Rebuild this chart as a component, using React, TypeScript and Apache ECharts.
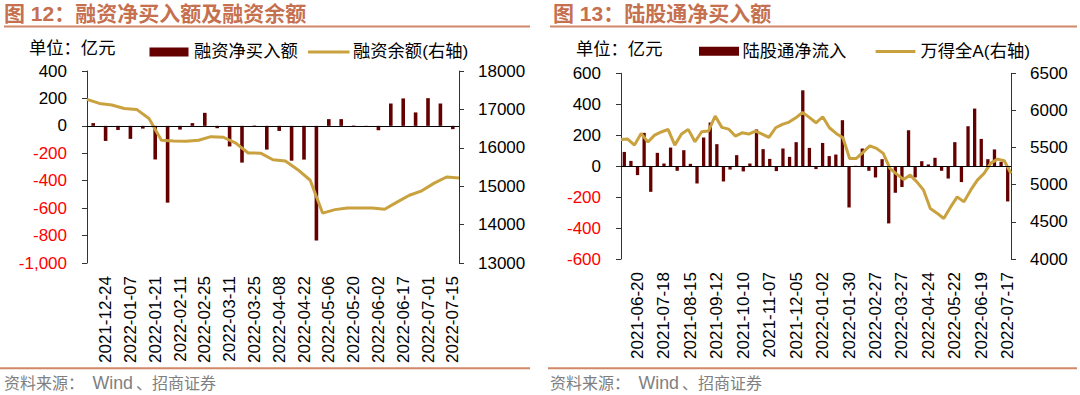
import React, { useEffect, useRef } from "react";
import * as echarts from "echarts";

// ---------- Chart 12: margin financing ----------
const marginWeeks = [
  "2021-12-17", "2021-12-24", "2021-12-31", "2022-01-07", "2022-01-14", "2022-01-21",
  "2022-01-28", "2022-02-11", "2022-02-18", "2022-02-25", "2022-03-04", "2022-03-11",
  "2022-03-18", "2022-03-25", "2022-04-01", "2022-04-08", "2022-04-15", "2022-04-22",
  "2022-04-29", "2022-05-06", "2022-05-13", "2022-05-20", "2022-05-27", "2022-06-02",
  "2022-06-10", "2022-06-17", "2022-06-24", "2022-07-01", "2022-07-08", "2022-07-15",
];
const marginNetBuy = [
  20, -110, -30, -95, -20, -245, -560, -27, 20, 95, -17, -150, -268, 3, -173,
  -37, -254, -246, -836, 49, 49, 3, -4, -32, 163, 200, 98, 202, 163, -24,
];
// balance points at week boundaries (start of first week + end of each week)
const marginBalanceDates = ["2021-12-10", ...marginWeeks];
const marginBalance = [
  17260, 17155, 17115, 17025, 17000, 16765, 16195, 16175, 16170, 16195, 16290,
  16275, 16120, 15865, 15860, 15690, 15655, 15430, 15155, 14300, 14390, 14435,
  14435, 14435, 14400, 14585, 14765, 14880, 15080, 15240, 15215,
];

// ---------- Chart 13: northbound ----------
const hkWeeks = [
  "2021-06-06", "2021-06-13", "2021-06-20", "2021-06-27", "2021-07-04", "2021-07-11",
  "2021-07-18", "2021-07-25", "2021-08-01", "2021-08-08", "2021-08-15", "2021-08-22",
  "2021-08-29", "2021-09-05", "2021-09-12", "2021-09-19", "2021-09-26", "2021-10-03",
  "2021-10-10", "2021-10-17", "2021-10-24", "2021-10-31", "2021-11-07", "2021-11-14",
  "2021-11-21", "2021-11-28", "2021-12-05", "2021-12-12", "2021-12-19", "2021-12-26",
  "2022-01-02", "2022-01-09", "2022-01-16", "2022-01-23", "2022-01-30", "2022-02-06",
  "2022-02-13", "2022-02-20", "2022-02-27", "2022-03-06", "2022-03-13", "2022-03-20",
  "2022-03-27", "2022-04-03", "2022-04-10", "2022-04-17", "2022-04-24", "2022-05-01",
  "2022-05-08", "2022-05-15", "2022-05-22", "2022-05-29", "2022-06-05", "2022-06-12",
  "2022-06-19", "2022-06-26", "2022-07-03", "2022-07-10", "2022-07-17",
];
const hkNetInflow = [
  92, 34, -58, 215, -166, 86, 17, 120, -30, 103, 15, -112, 185, 282, 142, -99,
  -22, 71, -34, 17, 237, 110, 47, -32, 114, 60, 155, 490, 118, -19, 150, 65, 75,
  297, -267, 2, 114, -30, -73, 45, -370, -172, -135, 232, -73, 32, 11, 54, -30,
  -80, 155, -103, 258, 372, 176, 45, 108, 28, -228,
];
const windA = [
  5610, 5614, 5533, 5691, 5574, 5668, 5710, 5745, 5533, 5682, 5745, 5578, 5713,
  5722, 5924, 5772, 5749, 5655, 5699, 5682, 5722, 5682, 5637, 5767, 5812, 5843,
  5901, 5974, 5907, 5834, 5915, 5767, 5691, 5632, 5354, 5354, 5435, 5524, 5489,
  5422, 5219, 5143, 5071, 5129, 5039, 4927, 4680, 4617, 4545, 4698, 4837, 4769,
  4927, 5062, 5152, 5291, 5345, 5322, 5152,
];

const BAR = "#650000";
const GOLD = "#C9A13E";
const TITLE = "#C5704F";
const RULE = "#D08868";
const FONT = "'Liberation Sans', Arial, 'Noto Sans CJK SC', sans-serif";
const AX = "#333333";

const fmt = (v: number) => v.toLocaleString("en-US");

function leftAxis(grid: number, min: number, max: number, interval: number) {
  return {
    type: "value",
    gridIndex: grid,
    position: "left",
    min,
    max,
    interval,
    axisLine: { show: true, lineStyle: { color: AX, width: 1 } },
    axisTick: { show: true, length: 5, lineStyle: { color: AX } },
    splitLine: { show: false },
    axisLabel: {
      margin: 20,
      formatter: (v: number) => (v < 0 ? `{r|${fmt(v)}}` : `{k|${fmt(v)}}`),
      rich: {
        r: { color: "#FF0000", fontSize: 17, fontFamily: FONT },
        k: { color: "#000000", fontSize: 17, fontFamily: FONT },
      },
    },
  };
}

function rightAxis(grid: number, min: number, max: number, interval: number) {
  return {
    type: "value",
    gridIndex: grid,
    position: "right",
    min,
    max,
    interval,
    axisLine: { show: true, lineStyle: { color: AX, width: 1 } },
    axisTick: { show: true, length: 5, lineStyle: { color: AX } },
    splitLine: { show: false },
    axisLabel: {
      margin: 19,
      color: "#000",
      fontSize: 17,
      fontFamily: FONT,
      formatter: (v: number) => String(v),
    },
  };
}

function catAxis(grid: number, data: string[], every: number, offset: number) {
  return {
    type: "category",
    gridIndex: grid,
    data,
    boundaryGap: true,
    position: "bottom",
    axisLine: { show: false, onZero: false },
    axisTick: { show: false },
    axisLabel: {
      rotate: 90,
      margin: 13,
      fontSize: 17,
      fontFamily: FONT,
      color: "#000",
      interval: (i: number) => i % every === offset,
    },
  };
}

function hiddenAxis(grid: number, data: string[]) {
  return {
    type: "category",
    gridIndex: grid,
    data,
    boundaryGap: false,
    show: false,
  };
}

function txt(x: number, y: number, text: string, size: number, fill: string, weight = "normal") {
  return {
    type: "text",
    x,
    y,
    silent: true,
    style: {
      text,
      fill,
      font: `${weight} ${size}px ${FONT}`,
      textVerticalAlign: "middle",
      verticalAlign: "middle",
    },
  };
}

function ln(x1: number, y1: number, x2: number, y2: number, stroke: string, w: number) {
  return { type: "line", silent: true, shape: { x1, y1, x2, y2 }, style: { stroke, lineWidth: w } };
}

function rc(x: number, y: number, w: number, h: number, fill: string) {
  return { type: "rect", silent: true, shape: { x, y, width: w, height: h }, style: { fill } };
}

function source(x: number) {
  const gray = "#808080";
  return [
    txt(x, 383, "资料来源：", 16, gray),
    txt(x + 88.5, 383, "Wind", 17.8, gray),
    txt(x + 132, 383, "、招商证券", 16, gray),
  ];
}

const zeroLine = {
  silent: true,
  symbol: ["none", "none"],
  label: { show: false },
  lineStyle: { color: "#000", width: 1, type: "solid" },
  data: [{ yAxis: 0 }],
};

export default function App() {
  const ref = useRef<HTMLDivElement>(null);
  useEffect(() => {
    if (!ref.current) return;
    const chart = echarts.init(ref.current, undefined, { renderer: "svg" });
    chart.setOption({
      animation: false,
      backgroundColor: "#ffffff",
      grid: [
        { left: 87, top: 71, width: 372, height: 192 },
        { left: 621, top: 73.3, width: 390, height: 185.7 },
      ],
      xAxis: [
        catAxis(0, marginWeeks, 2, 1),
        hiddenAxis(0, marginBalanceDates),
        catAxis(1, hkWeeks, 4, 2),
        hiddenAxis(1, hkWeeks),
      ],
      yAxis: [
        leftAxis(0, -1000, 400, 200),
        rightAxis(0, 13000, 18000, 1000),
        leftAxis(1, -600, 600, 200),
        rightAxis(1, 4000, 6500, 500),
      ],
      series: [
        {
          name: "融资净买入额",
          type: "bar",
          xAxisIndex: 0,
          yAxisIndex: 0,
          data: marginNetBuy,
          barWidth: 3.6,
          itemStyle: { color: BAR },
          markLine: zeroLine,
        },
        {
          name: "融资余额(右轴)",
          type: "line",
          xAxisIndex: 1,
          yAxisIndex: 1,
          data: marginBalance,
          symbol: "none",
          lineStyle: { color: GOLD, width: 3 },
        },
        {
          name: "陆股通净流入",
          type: "bar",
          xAxisIndex: 2,
          yAxisIndex: 2,
          data: hkNetInflow,
          barWidth: 3.3,
          itemStyle: { color: BAR },
          markLine: zeroLine,
        },
        {
          name: "万得全A(右轴)",
          type: "line",
          xAxisIndex: 3,
          yAxisIndex: 3,
          data: windA,
          symbol: "none",
          lineStyle: { color: GOLD, width: 3 },
        },
      ],
      graphic: [
        txt(4, 13, "图 12：融资净买入额及融资余额", 21, TITLE, "bold"),
        ln(4, 26.5, 530, 26.5, RULE, 2),
        txt(553, 13, "图 13：陆股通净买入额", 21, TITLE, "bold"),
        ln(550, 26.5, 1077, 26.5, RULE, 2),

        txt(29, 48, "单位：亿元", 17.3, "#000"),
        rc(149.5, 47.4, 39, 9, BAR),
        txt(194, 51, "融资净买入额", 17.3, "#000"),
        ln(308, 52, 349.5, 52, GOLD, 3),
        txt(353, 51, "融资余额(右轴)", 17.3, "#000"),

        txt(576, 49, "单位：亿元", 17.3, "#000"),
        rc(699, 46.8, 40, 9, BAR),
        txt(742.5, 51, "陆股通净流入", 17.3, "#000"),
        ln(875.6, 51.5, 915.4, 51.5, GOLD, 3),
        txt(920.5, 51, "万得全A(右轴)", 17.3, "#000"),

        ln(0, 368.3, 530, 368.3, RULE, 2),
        ln(548, 368.3, 1077, 368.3, RULE, 2),
        ...source(4),
        ...source(550),
      ],
    });
    return () => chart.dispose();
  }, []);
  return (
    <div
      ref={ref}
      style={{ position: "fixed", left: 0, top: 0, width: 1080, height: 395, background: "#fff" }}
    />
  );
}
